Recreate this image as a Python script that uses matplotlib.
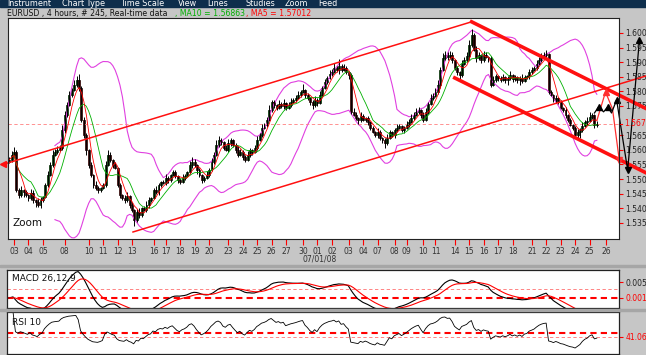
import numpy as np
import pandas as pd
import matplotlib.pyplot as plt
from matplotlib.patches import Rectangle

# EURUSD 4 hour closes, in pips above 1.5000
close_pips = [
    566, 583, 594, 463, 446, 463, 456, 446, 436, 453,
    429, 422, 412, 429, 439, 480, 514, 549, 583, 594,
    600, 607, 668, 720, 754, 788, 805, 822, 839, 812,
    702, 651, 600, 549, 514, 480, 470, 463, 470, 480,
    549, 583, 566, 549, 538, 480, 446, 436, 429, 443,
    412, 395, 360, 388, 378, 401, 395, 412, 429, 436,
    463, 456, 480, 490, 487, 504, 497, 514, 524, 511,
    497, 490, 504, 511, 524, 549, 559, 549, 531, 514,
    497, 504, 514, 531, 559, 583, 617, 634, 627, 607,
    600, 624, 634, 617, 600, 583, 594, 576, 566, 583,
    600, 594, 607, 634, 651, 675, 685, 702, 737, 764,
    754, 744, 757, 750, 761, 744, 754, 764, 771, 778,
    788, 798, 805, 788, 778, 764, 754, 771, 761, 788,
    812, 832, 846, 860, 867, 880, 873, 887, 873, 880,
    867, 856, 730, 720, 709, 702, 716, 702, 709, 696,
    675, 661, 651, 661, 641, 634, 624, 641, 661, 651,
    668, 675, 682, 668, 675, 685, 696, 709, 720, 730,
    737, 720, 702, 730, 757, 778, 785, 798, 822, 873,
    914, 925, 918, 925, 908, 880, 867, 856, 894, 908,
    921, 959, 993, 942, 914, 925, 908, 925, 918, 914,
    822, 839, 853, 846, 839, 849, 839, 846, 856, 843,
    849, 839, 846, 836, 849, 853, 867, 873, 880, 894,
    908, 918, 925, 928, 798, 788, 771, 778, 764, 744,
    737, 720, 702, 685, 675, 652, 660, 668, 683, 694,
    700, 712, 718, 686, 690,
]
first_open_pips = 560
# wick lengths, one digit per bar, 4 pips per unit
wick_up = ("2341231213 2132123242 3243232435 2321213212 3421212123 "
           "1212312321 2321232122 1232134212 1232324321 2321232123 "
           "2123232342 2132312322 3251212323 2323242623 2123213212 "
           "1213212321 2321232323 2123232343 4323212132 3452321321 "
           "2321231231 2123212323 2323121212 1212123232 34212")
wick_dn = ("1212324232 3423212121 2123212123 2343232321 2123123232 "
           "3252321232 1232123212 3212123232 3212121232 1232321321 "
           "2312121212 3212321212 1213234231 2121212321 2321232123 "
           "2123234212 3212312121 2321212123 1232323421 2321323213 "
           "2123213423 2342123212 1212212321 2321234521 21232")

tick_bars = [2, 8, 14, 23, 33, 39, 45, 51, 60, 65, 71, 77, 83, 91, 97, 103, 109, 115, 122, 128,
             134, 141, 147, 153, 160, 165, 172, 177, 185, 191, 197, 203, 209, 217, 223, 229, 235, 241, 248]
tick_labels = ["03", "04", "05", "08", "10", "11", "12", "13", "16", "17", "18", "19", "20", "23",
               "24", "25", "26", "27", "30", "01", "02", "03", "04", "07", "08", "09", "10", "11",
               "14", "15", "16", "17", "18", "21", "22", "23", "24", "25", "26"]
price_ticks = [1.600, 1.595, 1.590, 1.585, 1.580, 1.575, 1.565, 1.560, 1.555, 1.550, 1.545, 1.540, 1.535]

# trend channels drawn on the chart (bar, price)
up_upper = ([-2.6, 192.0], [1.5550, 1.6038])
up_lower = ([51.4, 264.5], [1.5319, 1.5853])
down_upper = ([192.0, 264.5], [1.6038, 1.5741])
down_lower = ([185.0, 264.5], [1.5846, 1.5521])
# projected paths at the right end
proj_red_x = [244.0, 247.6, 250.5, 253.3]
proj_red_y = [1.5700, 1.5798, 1.5740, 1.5566]
proj_blk_x = [243.0, 244.7, 246.8, 248.5, 250.1, 252.2, 256.8, 261.7]
proj_blk_y = [1.5726, 1.5747, 1.5730, 1.5747, 1.5726, 1.5771, 1.5531, 1.5976]

menu_items = ["Instrument", "Chart Type", "Time Scale", "View", "Lines", "Studies", "Zoom", "Feed"]
menu_x = [7, 62, 120, 178, 207, 245, 285, 318]

c = 1.5 + np.array(close_pips) / 10000
o = np.r_[1.5 + first_open_pips / 10000, c[:-1]]
wu = np.array([int(d) for d in wick_up.replace(" ", "")]) * 4 / 10000
wd = np.array([int(d) for d in wick_dn.replace(" ", "")]) * 4 / 10000
hi = np.maximum(o, c) + wu
lo = np.minimum(o, c) - wd
x = np.arange(len(c))

s = pd.Series(c)
ma5 = s.rolling(5, min_periods=1).mean()
ma10 = s.rolling(10, min_periods=3).mean()
mid = s.rolling(20).mean()
sd = s.rolling(20).std(ddof=0)
macd = s.ewm(span=12, adjust=False).mean() - s.ewm(span=26, adjust=False).mean()
signal = macd.ewm(span=9, adjust=False).mean()
d = s.diff()
gain = d.clip(lower=0).ewm(alpha=0.1, adjust=False).mean()
loss = (-d.clip(upper=0)).ewm(alpha=0.1, adjust=False).mean()
rsi = 100 - 100 / (1 + gain / loss)

W, H = 646, 355
def fx(px): return px / W
def fy(py): return 1 - py / H

fig = plt.figure(figsize=(6.46, 3.55), dpi=100)
fig.patch.set_facecolor('#c6c6c6')
fig.add_artist(Rectangle((0, fy(7)), 1, 7 / H, transform=fig.transFigure, color='#0e2e4c'))
fig.add_artist(Rectangle((0, fy(267)), 1, 2 / H, transform=fig.transFigure, color='#a6a6a6'))
fig.add_artist(Rectangle((0, fy(311)), 1, 2 / H, transform=fig.transFigure, color='#a6a6a6'))
for name, mx in zip(menu_items, menu_x):
    fig.text(fx(mx), fy(6.3), name, color='white', fontsize=5.8, va='baseline')

fig.text(fx(7), fy(16), "EURUSD , 4 hours, # 245, Real-time data", fontsize=5.6, color='#111111', va='baseline')
fig.text(fx(175), fy(16), ", MA10 = %.5f" % ma10.iloc[-1], fontsize=5.6, color='#00b000', va='baseline')
fig.text(fx(246), fy(16), ", MA5 = %.5f" % ma5.iloc[-1], fontsize=5.6, color='#ff0000', va='baseline')

xlim = (-0.5, 253.2)

# main price panel
ax = fig.add_axes([fx(8), fy(239), (619 - 8) / W, (239 - 18) / H])
ax.set_facecolor('white')
ax.plot(x, mid + 2 * sd, color='#e040e0', lw=0.8)
ax.plot(x, mid - 2 * sd, color='#e040e0', lw=0.8)
ax.axhline(c[-1], color='#ff8080', lw=0.6, ls=(0, (4, 3)))
up_bar = c >= o
ax.vlines(x, lo, hi, color='black', lw=0.7)
ax.bar(x, np.maximum(np.abs(c - o), 0.00006), bottom=np.minimum(o, c), width=0.8,
       color=np.where(up_bar, '#00ff00', '#ff0000'), edgecolor='black', linewidth=0.5)
ax.plot(x, ma10, color='#00b000', lw=0.6)
ax.plot(x, ma5, color='#ff0000', lw=0.6)

ax.plot(*up_upper, color='#ff1010', lw=1.1, clip_on=False)
ax.plot(up_upper[0][0], up_upper[1][0], marker='<', color='#ff1010', ms=4, clip_on=False)
ax.plot(*up_lower, color='#ff1010', lw=1.1, clip_on=False)
ax.plot(*down_upper, color='#ff1010', lw=2.6, clip_on=False)
ax.plot(*down_lower, color='#ff1010', lw=2.6, clip_on=False)

ax.plot(proj_red_x, proj_red_y, color='#ff3030', lw=0.9, clip_on=False)
ax.plot(proj_red_x[1], proj_red_y[1], marker='^', color='#ff3030', ms=5, clip_on=False)
ax.plot(proj_red_x[3], proj_red_y[3], marker='v', color='#ff3030', ms=5, clip_on=False)
ax.plot(proj_blk_x, proj_blk_y, color='black', lw=0.9, clip_on=False)
for k in [1, 3, 5, 7]:
    ax.plot(proj_blk_x[k], proj_blk_y[k], marker='^', color='black', ms=5, clip_on=False)
ax.plot(proj_blk_x[6], proj_blk_y[6], marker='v', color='black', ms=5, clip_on=False)

ax.set_xlim(*xlim)
ax.set_ylim(1.5295, 1.6051)
ax.set_xticks(tick_bars)
ax.set_xticklabels(tick_labels)
ax.yaxis.tick_right()
ax.set_yticks(price_ticks)
ax.set_yticklabels(["%.3f" % p for p in price_ticks])
ax.tick_params(axis='x', color='red', labelcolor='#333333', length=4, width=0.8, labelsize=5.5, pad=2)
ax.tick_params(axis='y', color='red', labelcolor='#222222', length=3, width=0.8, labelsize=5.5, pad=1.5)
ax.plot([1.0, 1.0 + 3 / 611], [c[-1], c[-1]], transform=ax.get_yaxis_transform(),
        color='red', lw=0.8, clip_on=False)
ax.text(1.0 + 5.5 / 611, c[-1], "1.567", transform=ax.get_yaxis_transform(), fontsize=5.5,
        color='red', va='center')
ax.text(0.007, 0.06, "Zoom", transform=ax.transAxes, fontsize=7.5, color='#111111')
for sp in ax.spines.values():
    sp.set_color('#222222')
    sp.set_linewidth(0.8)
fig.text(fx(320), fy(262), "07/01/08", fontsize=5.5, color='#333333', ha='center')

# MACD panel
top = macd.max() * 1.06
ax2 = fig.add_axes([fx(7), fy(308), (619 - 7) / W, (308 - 270) / H])
ax2.set_facecolor('white')
ax2.axhline(0, color='red', lw=1.5, ls=(0, (3, 2)))
ax2.axhline(top * 0.32, color='#ff7070', lw=0.6, ls=(0, (4, 3)))
ax2.plot(x, macd, color='black', lw=0.8)
ax2.plot(x, signal, color='red', lw=0.8)
ax2.set_xlim(*xlim)
ax2.set_ylim(-top * 0.36, top)
ax2.set_xticks([])
ax2.yaxis.tick_right()
ax2.set_yticks([0.005, 0])
ax2.set_yticklabels(["0.005", "0.001"])
ax2.tick_params(axis='y', color='red', labelcolor='#222222', length=3, labelsize=5.5, pad=1.5)
ax2.get_yticklabels()[1].set_color('red')
ax2.text(0.008, 0.72, "MACD 26,12,9", transform=ax2.transAxes, fontsize=6.5, color='#111111')

# RSI panel
ax3 = fig.add_axes([fx(7), fy(354), (619 - 7) / W, (354 - 312) / H])
ax3.set_facecolor('white')
ax3.axhline(50, color='red', lw=1.5, ls=(0, (3, 2)))
ax3.axhline(41.06, color='#ff7070', lw=0.6, ls=(0, (4, 3)))
ax3.plot(x, rsi, color='black', lw=0.6)
ax3.set_xlim(*xlim)
ax3.set_ylim(0, 100)
ax3.set_xticks([])
ax3.yaxis.tick_right()
ax3.set_yticks([41.06])
ax3.set_yticklabels(["41.06"])
ax3.tick_params(axis='y', color='red', labelcolor='red', length=3, labelsize=5.5, pad=1.5)
ax3.text(0.008, 0.68, "RSI 10", transform=ax3.transAxes, fontsize=6.5, color='#111111')

for a in (ax2, ax3):
    for sp in a.spines.values():
        sp.set_color('#222222')
        sp.set_linewidth(0.9)

fig.savefig('out.png', dpi=100, facecolor=fig.get_facecolor())
